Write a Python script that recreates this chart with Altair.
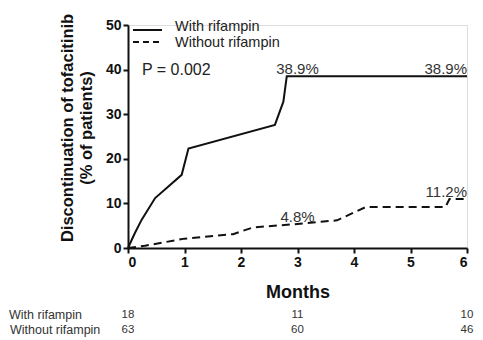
import altair as alt
import pandas as pd

# Cumulative discontinuation curves (months, % of patients)
with_months = [0, 0.12, 0.24, 0.48, 0.95, 1.07, 2.6, 2.75, 2.81, 6.0]
with_values = [0, 3.3, 6.3, 11.2, 16.4, 22.3, 27.6, 32.8, 38.5, 38.5]
without_months = [0, 0.3, 1.0, 1.86, 2.21, 3.0, 3.7, 4.21, 5.62, 5.69, 5.95]
without_values = [0, 0.5, 2.1, 3.1, 4.6, 5.4, 6.2, 9.2, 9.2, 11.0, 11.0]

# Percentage annotations
center_label_months = [3.0, 3.0]
center_label_values = [38.5, 5.4]
center_label_texts = ["38.9%", "4.8%"]
right_label_months = [6.0, 6.0]
right_label_values = [38.5, 11.0]
right_label_texts = ["38.9%", "11.2%"]

# Numbers at risk
risk_months = [0, 3, 6]
with_risk = [18, 11, 10]
without_risk = [63, 60, 46]

series_names = ["With rifampin", "Without rifampin"]
p_text = "P = 0.002"

FONT = "Liberation Sans"

df_with = pd.DataFrame({"month": with_months, "value": with_values})
df_without = pd.DataFrame({"month": without_months, "value": without_values})
df_center = pd.DataFrame({"month": center_label_months, "value": center_label_values, "text": center_label_texts})
df_right = pd.DataFrame({"month": right_label_months, "value": right_label_values, "text": right_label_texts})
df_risk_with = pd.DataFrame({"month": risk_months, "n": with_risk})
df_risk_without = pd.DataFrame({"month": risk_months, "n": without_risk})

xscale = alt.Scale(domain=[0, 6], nice=False, zero=False)
yscale = alt.Scale(domain=[0, 50], nice=False)

x_axis = alt.Axis(
    values=[0, 1, 2, 3, 4, 5, 6], format="d", title="Months", grid=False,
    labelFontSize=14, labelFontWeight="bold", labelColor="#111", labelPadding=2,
    tickSize=5, tickWidth=2, tickColor="#111", domainColor="#111", domainWidth=2,
    titleFontSize=18, titleFontWeight="bold", titleColor="#111",
    titleY=44, titleBaseline="middle",
)
y_axis = alt.Axis(
    values=[0, 10, 20, 30, 40, 50], format="d",
    title=["Discontinuation of tofacitinib", "(% of patients)"], grid=False,
    labelFontSize=14, labelFontWeight="bold", labelColor="#111", labelPadding=2,
    tickSize=5, tickWidth=2, tickColor="#111", domainColor="#111", domainWidth=2,
    titleFontSize=16.5, titleFontWeight="bold", titleColor="#111", titleLineHeight=19,
    titleX=-61, titleY=102.5, titleAlign="center", titleBaseline="middle", titleAngle=270,
)

line_with = alt.Chart(df_with).mark_line(color="#111", strokeWidth=2).encode(
    x=alt.X("month:Q", scale=xscale, axis=x_axis),
    y=alt.Y("value:Q", scale=yscale, axis=y_axis),
)
line_without = alt.Chart(df_without).mark_line(color="#111", strokeWidth=2, strokeDash=[8, 5]).encode(
    x=alt.X("month:Q", scale=xscale),
    y=alt.Y("value:Q", scale=yscale),
)

lab_center = alt.Chart(df_center).mark_text(
    font=FONT, fontSize=15, color="#333", align="center", baseline="alphabetic", dy=-2
).encode(x=alt.X("month:Q", scale=xscale), y=alt.Y("value:Q", scale=yscale), text="text:N")
lab_right = alt.Chart(df_right).mark_text(
    font=FONT, fontSize=15, color="#333", align="right", baseline="alphabetic", dy=-2
).encode(x=alt.X("month:Q", scale=xscale), y=alt.Y("value:Q", scale=yscale), text="text:N")

# Legend (drawn manually)
legend_df = pd.DataFrame({"name": series_names})
leg_solid = alt.Chart(legend_df.iloc[[0]]).mark_rule(color="#111", strokeWidth=2).encode(
    x=alt.value(5), x2=alt.value(34), y=alt.value(5))
leg_dash = alt.Chart(legend_df.iloc[[1]]).mark_rule(color="#111", strokeWidth=2, strokeDash=[6, 4]).encode(
    x=alt.value(5), x2=alt.value(34), y=alt.value(17))
leg_t1 = alt.Chart(legend_df.iloc[[0]]).mark_text(
    font=FONT, fontSize=14.5, color="#222", align="left", baseline="middle"
).encode(x=alt.value(47), y=alt.value(2), text="name:N")
leg_t2 = alt.Chart(legend_df.iloc[[1]]).mark_text(
    font=FONT, fontSize=14.5, color="#222", align="left", baseline="middle"
).encode(x=alt.value(47), y=alt.value(17.5), text="name:N")

p_df = pd.DataFrame({"t": [p_text]})
p_mark = alt.Chart(p_df).mark_text(
    font=FONT, fontSize=16, color="#222", align="left", baseline="middle"
).encode(x=alt.value(14), y=alt.value(45), text="t:N")

# Numbers at risk table
row_df = pd.DataFrame({"name": series_names})
row1 = alt.Chart(row_df.iloc[[0]]).mark_text(
    font=FONT, fontSize=12.5, color="#333", align="left", baseline="middle"
).encode(x=alt.value(-119), y=alt.value(290), text="name:N")
row2 = alt.Chart(row_df.iloc[[1]]).mark_text(
    font=FONT, fontSize=12.5, color="#333", align="left", baseline="middle"
).encode(x=alt.value(-118), y=alt.value(305), text="name:N")
risk1 = alt.Chart(df_risk_with).mark_text(
    font=FONT, fontSize=11.5, color="#333", align="center", baseline="middle"
).encode(x=alt.X("month:Q", scale=xscale), y=alt.value(290), text="n:Q")
risk2 = alt.Chart(df_risk_without).mark_text(
    font=FONT, fontSize=11.5, color="#333", align="center", baseline="middle"
).encode(x=alt.X("month:Q", scale=xscale), y=alt.value(305), text="n:Q")

chart = alt.layer(
    line_with, line_without, lab_center, lab_right,
    leg_solid, leg_dash, leg_t1, leg_t2, p_mark,
    row1, row2, risk1, risk2,
).properties(
    width=339, height=223,
    autosize=alt.AutoSizeParams(type="none"),
    padding={"left": 120, "top": 17, "right": 8, "bottom": 90},
    background="white",
).configure_view(stroke=None).configure(font=FONT)

chart.save("out.html", embed_options={"renderer": "svg", "actions": False})
